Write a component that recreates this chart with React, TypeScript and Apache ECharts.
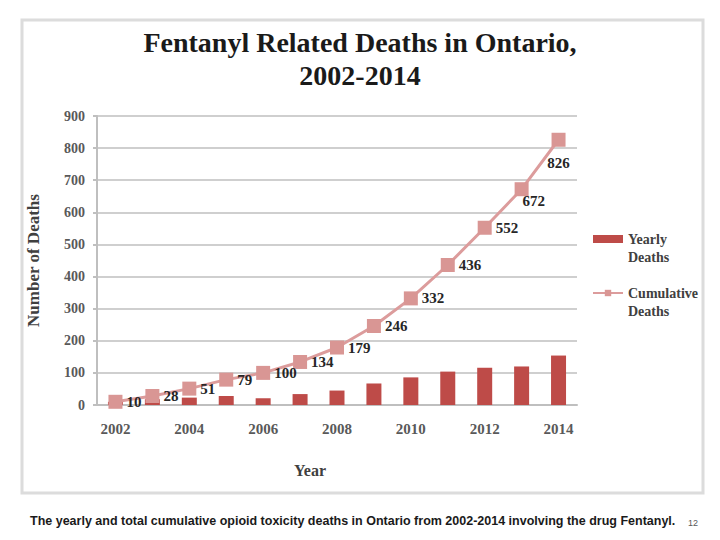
import React, { useEffect, useRef } from "react";
import * as echarts from "echarts";

const years = ["2002","2003","2004","2005","2006","2007","2008","2009","2010","2011","2012","2013","2014"];
const yearlyDeaths = [10, 18, 23, 28, 21, 34, 45, 67, 86, 104, 116, 120, 154];
const cumulativeDeaths = [10, 28, 51, 79, 100, 134, 179, 246, 332, 436, 552, 672, 826];
const titleText = "Fentanyl Related Deaths in Ontario,\n2002-2014";
const captionText = "The yearly and total cumulative opioid toxicity deaths in Ontario from 2002-2014 involving the drug Fentanyl.";
const pageNumber = "12";

export default function App() {
  const ref = useRef<HTMLDivElement>(null);
  useEffect(() => {
    if (!ref.current) return;
    const chart = echarts.init(ref.current, undefined, { renderer: "svg" });
    const serif = "'Liberation Serif', 'DejaVu Serif', serif";
    const n = cumulativeDeaths.length;
    const lineData = cumulativeDeaths.map((v, i) => {
      if (i === n - 1) return { value: v, label: { position: "bottom", offset: [0, 5] } };
      if (i === n - 2) return { value: v, label: { position: "right", offset: [-10, 12] } };
      return v;
    });
    chart.setOption({
      animation: false,
      backgroundColor: "#ffffff",
      title: {
        text: titleText,
        left: "center",
        top: 21,
        textStyle: {
          fontFamily: serif,
          fontWeight: "bold",
          fontSize: 28,
          lineHeight: 33,
          color: "#1a1a1a",
        },
      },
      grid: { left: 97, right: 143, top: 116, bottom: 135, containLabel: false },
      legend: {
        orient: "vertical",
        left: 587,
        top: 207,
        itemGap: 0,
        itemWidth: 30,
        itemHeight: 8,
        data: [
          { name: "Yearly Deaths", icon: "rect" },
          { name: "Cumulative Deaths" },
        ],
        formatter: (name: string) => "\n" + name.replace(" ", "\n"),
        textStyle: {
          fontFamily: serif,
          fontWeight: "bold",
          fontSize: 14,
          lineHeight: 18,
          color: "#404040",
        },
      },
      xAxis: {
        type: "category",
        data: years,
        name: "Year",
        nameLocation: "middle",
        nameGap: 57,
        nameTextStyle: {
          fontFamily: serif,
          fontWeight: "bold",
          fontSize: 16,
          color: "#404040",
          padding: [0, 54, 0, 0],
        },
        axisLine: { lineStyle: { color: "#bfbfbf", width: 2 } },
        axisTick: { show: false },
        axisLabel: {
          interval: 1,
          margin: 16,
          fontFamily: serif,
          fontWeight: "bold",
          fontSize: 15,
          color: "#595959",
        },
      },
      yAxis: {
        type: "value",
        min: 0,
        max: 900,
        interval: 100,
        name: "Number of Deaths",
        nameLocation: "middle",
        nameGap: 55,
        nameTextStyle: { fontFamily: serif, fontWeight: "bold", fontSize: 17, color: "#404040" },
        axisLine: { show: true, lineStyle: { color: "#bfbfbf", width: 2 } },
        axisTick: { show: true, length: 4, lineStyle: { color: "#bfbfbf", width: 2 } },
        axisLabel: {
          margin: 12,
          fontFamily: serif,
          fontWeight: "bold",
          fontSize: 14,
          color: "#595959",
        },
        splitLine: { lineStyle: { color: "#bfbfbf", width: 1.5 } },
      },
      series: [
        {
          name: "Yearly Deaths",
          type: "bar",
          data: yearlyDeaths,
          barWidth: 15,
          itemStyle: { color: "#be4b48" },
        },
        {
          name: "Cumulative Deaths",
          type: "line",
          data: lineData,
          symbol: "rect",
          symbolSize: 14,
          lineStyle: { color: "#dc9c9c", width: 3 },
          itemStyle: { color: "#d99694" },
          label: {
            show: true,
            position: "right",
            distance: 4,
            fontFamily: serif,
            fontWeight: "bold",
            fontSize: 15,
            color: "#262626",
          },
          z: 3,
        },
      ],
      graphic: [
        {
          type: "rect",
          shape: { x: 22, y: 20, width: 681, height: 473 },
          style: { fill: "none", stroke: "#dcdcdc", lineWidth: 3 },
          silent: true,
        },
        {
          type: "text",
          left: 30,
          top: 514,
          style: {
            text: captionText,
            font: "bold 12.5px 'Liberation Sans', Arial, sans-serif",
            fill: "#1a1a1a",
          },
        },
        {
          type: "text",
          left: 688,
          top: 518,
          style: {
            text: pageNumber,
            font: "9px 'Liberation Sans', Arial, sans-serif",
            fill: "#595959",
          },
        },
      ],
    });
    return () => chart.dispose();
  }, []);
  return (
    <div
      ref={ref}
      style={{ position: "fixed", left: 0, top: 0, width: 720, height: 540, background: "#fff" }}
    />
  );
}
